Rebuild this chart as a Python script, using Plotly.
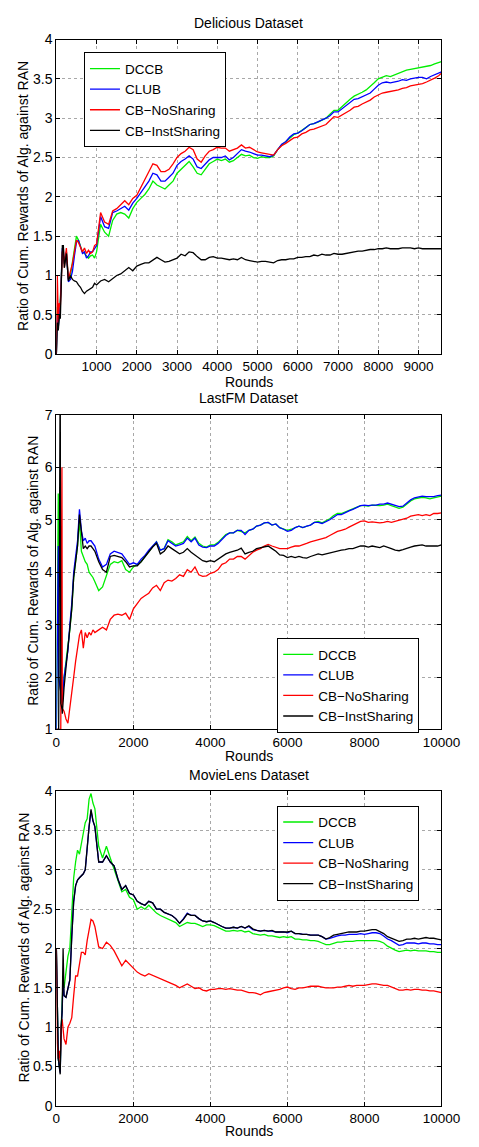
import plotly.graph_objects as go

W, H = 479, 1147

# ---------------- Data ----------------
NAMES = ["DCCB", "CLUB", "CB\u2212NoSharing", "CB\u2212InstSharing"]
COLORS = ["#00ee00", "#0000ff", "#ff0000", "#000000"]

# Delicious
DEL_X = [1, 25, 50, 75, 100, 125, 150, 175] + list(range(200, 1001, 50)) + list(range(1100, 9501, 100)) + [9570]
DEL_DCCB = [0.0, 0.6, 0.35, 0.5, 0.7, 1.0, 1.3, 1.25, 1.15, 1.3, 0.95, 1.0, 1.15, 1.3, 1.5, 1.45, 1.38, 1.3, 1.28, 1.25, 1.22, 1.25, 1.26, 1.22, 1.3,
            1.65, 1.55, 1.5, 1.7, 1.78, 1.8, 1.78, 1.73, 1.85, 1.93,
            1.98, 2.03, 2.1, 2.2, 2.15, 2.12, 2.1, 2.15, 2.2, 2.3,
            2.35, 2.4, 2.45, 2.38, 2.3, 2.28, 2.35, 2.42, 2.45, 2.48,
            2.46, 2.48, 2.44, 2.46, 2.5, 2.54, 2.52, 2.53, 2.5, 2.49,
            2.51, 2.5, 2.5, 2.52, 2.6, 2.66, 2.7, 2.75, 2.79, 2.81,
            2.84, 2.88, 2.92, 2.93, 2.95, 2.97, 3.0, 3.05, 3.1, 3.1,
            3.15, 3.2, 3.24, 3.28, 3.3, 3.33, 3.36, 3.4, 3.45, 3.5,
            3.52, 3.54, 3.53, 3.55, 3.57, 3.6, 3.61, 3.62, 3.63, 3.64,
            3.65, 3.66, 3.67, 3.69, 3.71, 3.72]
DEL_CLUB = [0.0, 0.5, 0.35, 0.55, 0.65, 1.0, 1.35, 1.3, 1.15, 1.3, 0.92, 0.95, 1.05, 1.25, 1.42, 1.45, 1.37, 1.28, 1.3, 1.22, 1.25, 1.3, 1.3, 1.35, 1.38,
            1.75, 1.62, 1.6, 1.8, 1.82, 1.85, 1.88, 1.83, 1.92, 1.98,
            2.05, 2.12, 2.2, 2.3, 2.28, 2.2, 2.2, 2.25, 2.3, 2.4,
            2.45, 2.48, 2.52, 2.48, 2.38, 2.36, 2.42, 2.47, 2.5, 2.5,
            2.5, 2.52, 2.47, 2.5, 2.55, 2.6, 2.58, 2.57, 2.55, 2.53,
            2.53, 2.52, 2.51, 2.53, 2.6, 2.67, 2.7, 2.76, 2.8, 2.81,
            2.84, 2.88, 2.92, 2.93, 2.95, 2.97, 3.0, 3.03, 3.08, 3.08,
            3.12, 3.15, 3.2, 3.24, 3.25, 3.27, 3.3, 3.32, 3.37, 3.42,
            3.45, 3.46, 3.45, 3.46, 3.47, 3.49, 3.48, 3.5, 3.51, 3.52,
            3.52, 3.5, 3.53, 3.55, 3.57, 3.59]
DEL_NOSH = [0.0, 1.0, 0.4, 0.65, 0.6, 1.0, 1.3, 1.35, 1.1, 1.35, 0.95, 1.05, 1.15, 1.3, 1.45, 1.42, 1.35, 1.3, 1.35, 1.28, 1.32, 1.28, 1.3, 1.38, 1.4,
            1.8, 1.68, 1.65, 1.82, 1.85, 1.9, 1.95, 1.9, 1.98, 2.02,
            2.12, 2.2, 2.3, 2.42, 2.4, 2.32, 2.32, 2.35, 2.42, 2.5,
            2.55, 2.58, 2.63, 2.6, 2.48, 2.44, 2.52, 2.58, 2.6, 2.63,
            2.62, 2.62, 2.58, 2.6, 2.62, 2.66, 2.62, 2.63, 2.6, 2.57,
            2.56, 2.55, 2.54, 2.53, 2.6, 2.65, 2.68, 2.72, 2.75, 2.76,
            2.8, 2.82, 2.85, 2.86, 2.88, 2.9, 2.92, 2.97, 3.02, 3.01,
            3.04, 3.06, 3.1, 3.14, 3.15, 3.18, 3.2, 3.23, 3.27, 3.3,
            3.32, 3.33, 3.34, 3.35, 3.36, 3.38, 3.39, 3.41, 3.42, 3.43,
            3.44, 3.46, 3.48, 3.51, 3.54, 3.57]
DEL_INST = [0.0, 0.4, 0.3, 0.5, 0.45, 1.05, 1.38, 1.38, 1.1, 1.28, 0.93, 1.0, 0.95, 0.93, 0.92, 0.88, 0.85, 0.8, 0.77, 0.8, 0.82, 0.83, 0.85, 0.9, 0.88,
            0.93, 0.95, 0.92, 0.96, 1.0, 1.02, 1.06, 1.1, 1.06, 1.12,
            1.14, 1.16, 1.16, 1.19, 1.23, 1.2, 1.17, 1.18, 1.2, 1.22,
            1.27, 1.25, 1.3, 1.29, 1.24, 1.2, 1.2, 1.23, 1.24, 1.22,
            1.22, 1.21, 1.2, 1.21, 1.2, 1.23, 1.2, 1.19, 1.18, 1.17,
            1.18, 1.18, 1.17, 1.16, 1.19, 1.2, 1.2, 1.21, 1.21, 1.23,
            1.23, 1.24, 1.24, 1.26, 1.25, 1.27, 1.26, 1.26, 1.28, 1.27,
            1.27, 1.28, 1.29, 1.3, 1.31, 1.31, 1.32, 1.33, 1.33, 1.34,
            1.34, 1.35, 1.34, 1.34, 1.34, 1.35, 1.35, 1.35, 1.34, 1.35,
            1.34, 1.34, 1.34, 1.34, 1.34, 1.34]

# LastFM
LFM_X = [0, 50, 60, 100, 115, 145, 155] + list(range(200, 1001, 50)) + list(range(1100, 10001, 100))
LFM_DCCB = [1.0, 5.5, 2.0, 1.8, 1.7, 1.6, 1.5, 2.0, 2.3, 2.5, 2.9, 3.3, 3.9, 4.2, 4.5, 5.0, 4.4, 4.3, 4.2, 4.15, 4.0, 3.95, 3.9, 3.82,
            3.65, 3.72, 3.95, 4.15, 4.2, 4.18, 4.22, 4.05, 4.0, 4.1,
            4.15, 4.2, 4.3, 4.4, 4.5, 4.58, 4.42, 4.45, 4.62, 4.58,
            4.52, 4.55, 4.58, 4.68, 4.6, 4.67, 4.55, 4.5, 4.48, 4.52,
            4.52, 4.57, 4.65, 4.72, 4.75, 4.75, 4.8, 4.78, 4.75, 4.8,
            4.82, 4.88, 4.9, 4.94, 4.95, 4.9, 4.92, 4.85, 4.82, 4.8,
            4.82, 4.85, 4.88, 4.85, 4.88, 4.9, 4.95, 4.97, 4.94, 4.98,
            5.02, 5.08, 5.12, 5.12, 5.15, 5.18, 5.2, 5.23, 5.27, 5.27,
            5.26, 5.28, 5.27, 5.27, 5.28, 5.3, 5.27, 5.25, 5.22, 5.24,
            5.3, 5.36, 5.4, 5.42, 5.43, 5.42, 5.4, 5.42, 5.44, 5.45]
LFM_CLUB = [1.0, 4.5, 2.0, 1.8, 1.7, 1.6, 1.5, 2.0, 2.3, 2.5, 3.0, 3.4, 4.0, 4.3, 4.6, 5.2, 4.8, 4.6, 4.65, 4.55, 4.6, 4.6, 4.55, 4.5,
            4.25, 4.1, 4.15, 4.35, 4.4, 4.38, 4.35, 4.25, 4.15, 4.18,
            4.15, 4.25, 4.32, 4.42, 4.5, 4.58, 4.42, 4.45, 4.6, 4.55,
            4.5, 4.52, 4.55, 4.65, 4.58, 4.65, 4.52, 4.48, 4.47, 4.5,
            4.5, 4.55, 4.63, 4.7, 4.75, 4.75, 4.8, 4.8, 4.72, 4.8,
            4.82, 4.88, 4.9, 4.94, 4.95, 4.9, 4.92, 4.85, 4.82, 4.78,
            4.8, 4.85, 4.88, 4.85, 4.88, 4.9, 4.95, 4.95, 4.93, 4.96,
            5.0, 5.05, 5.1, 5.1, 5.14, 5.17, 5.2, 5.23, 5.27, 5.28,
            5.27, 5.28, 5.28, 5.3, 5.3, 5.32, 5.3, 5.28, 5.25, 5.26,
            5.32, 5.38, 5.42, 5.44, 5.45, 5.44, 5.44, 5.44, 5.46, 5.47]
LFM_NOSH = [1.0, 1.0, 1.0, 1.0, 1.0, 6.0, 1.4, 1.35, 1.2, 1.12, 1.45, 1.65, 2.0, 2.3, 2.6, 2.8, 2.9, 2.55, 2.85, 2.75, 2.85, 2.8, 2.9, 2.85,
            2.9, 2.95, 2.9, 3.1, 3.18, 3.2, 3.18, 3.22, 3.1, 3.3,
            3.4, 3.5, 3.55, 3.6, 3.7, 3.75, 3.65, 3.8, 3.85, 3.83,
            3.88, 3.95, 3.92, 4.05, 4.0, 4.1, 3.95, 3.92, 3.93, 3.98,
            4.0, 4.05, 4.15, 4.18, 4.25, 4.25, 4.3, 4.3, 4.25, 4.32,
            4.38, 4.42, 4.45, 4.5, 4.53, 4.5, 4.48, 4.45, 4.45, 4.45,
            4.48, 4.5, 4.5, 4.52, 4.55, 4.58, 4.6, 4.62, 4.64, 4.66,
            4.7, 4.74, 4.78, 4.8, 4.82, 4.86, 4.9, 4.93, 4.97, 4.98,
            4.95, 4.96, 4.95, 4.94, 4.95, 4.97, 4.95, 4.97, 4.98, 5.0,
            5.03, 5.07, 5.08, 5.1, 5.08, 5.1, 5.08, 5.12, 5.12, 5.13]
LFM_INST = [1.0, 1.0, 1.0, 8.0, 1.5, 1.4, 1.3, 1.8, 2.2, 2.5, 2.9, 3.3, 3.9, 4.2, 4.5, 5.1, 4.7, 4.45, 4.5, 4.45, 4.5, 4.5, 4.45, 4.4,
            4.2, 4.05, 4.0, 4.3, 4.32, 4.3, 4.28, 4.2, 4.1, 4.12,
            4.12, 4.2, 4.3, 4.4, 4.48, 4.55, 4.35, 4.4, 4.5, 4.45,
            4.4, 4.35, 4.38, 4.45, 4.38, 4.33, 4.27, 4.22, 4.2, 4.22,
            4.2, 4.25, 4.3, 4.35, 4.38, 4.4, 4.42, 4.46, 4.35, 4.38,
            4.4, 4.45, 4.47, 4.48, 4.5, 4.45, 4.4, 4.33, 4.32, 4.28,
            4.3, 4.28, 4.3, 4.28, 4.27, 4.3, 4.32, 4.35, 4.33, 4.35,
            4.37, 4.38, 4.4, 4.42, 4.43, 4.45, 4.45, 4.47, 4.5, 4.5,
            4.48, 4.5, 4.48, 4.47, 4.5, 4.48, 4.45, 4.42, 4.41, 4.43,
            4.46, 4.48, 4.5, 4.51, 4.52, 4.5, 4.5, 4.5, 4.5, 4.52]

# MovieLens
ML_X = [0, 25, 50, 75, 100, 125, 150, 175] + list(range(200, 1001, 50)) + list(range(1100, 10001, 100))
ML_DCCB = [2.0, 1.0, 0.6, 0.5, 0.45, 1.0, 1.3, 1.6, 1.5, 1.7, 1.9, 2.0, 2.45, 2.9, 3.1, 3.25, 3.2, 3.35, 3.5, 3.6, 3.65, 3.9, 3.97, 3.85, 3.78,
           3.3, 3.15, 3.3, 3.15, 3.0, 2.85, 2.72, 2.75, 2.65, 2.62,
           2.5, 2.53, 2.5, 2.55, 2.5, 2.45, 2.42, 2.4, 2.37, 2.35,
           2.33, 2.28, 2.3, 2.33, 2.32, 2.32, 2.3, 2.28, 2.3, 2.3,
           2.29, 2.27, 2.25, 2.22, 2.22, 2.23, 2.22, 2.23, 2.21, 2.22,
           2.19, 2.18, 2.17, 2.18, 2.16, 2.16, 2.15, 2.14, 2.15, 2.14,
           2.15, 2.12, 2.12, 2.11, 2.11, 2.1, 2.1, 2.09, 2.07, 2.05,
           2.05, 2.07, 2.08, 2.08, 2.09, 2.09, 2.09, 2.1, 2.1, 2.1,
           2.1, 2.1, 2.1, 2.09, 2.07, 2.03, 2.0, 1.98, 1.96, 1.97,
           1.98, 1.97, 1.98, 1.97, 1.97, 1.97, 1.96, 1.96, 1.95, 1.95]
ML_CLUB = [2.0, 1.0, 0.6, 0.5, 0.42, 1.0, 1.2, 1.6, 1.4, 1.38, 1.5, 1.6, 2.15, 2.6, 2.8, 2.87, 2.9, 2.92, 2.95, 3.0, 3.3, 3.55, 3.75, 3.62, 3.55,
           3.1, 3.1, 3.18, 3.1, 3.05, 2.88, 2.75, 2.8, 2.7, 2.68,
           2.6, 2.57, 2.55, 2.6, 2.58, 2.5, 2.5, 2.46, 2.44, 2.42,
           2.38, 2.32, 2.38, 2.45, 2.42, 2.42, 2.38, 2.35, 2.34, 2.35,
           2.33, 2.3, 2.28, 2.26, 2.26, 2.27, 2.26, 2.28, 2.26, 2.28,
           2.24, 2.23, 2.22, 2.23, 2.22, 2.22, 2.21, 2.21, 2.21, 2.2,
           2.22, 2.19, 2.19, 2.18, 2.18, 2.17, 2.17, 2.17, 2.15, 2.12,
           2.13, 2.15, 2.16, 2.17, 2.17, 2.18, 2.18, 2.18, 2.19, 2.18,
           2.19, 2.2, 2.2, 2.19, 2.16, 2.12, 2.1, 2.07, 2.04, 2.05,
           2.07, 2.07, 2.07, 2.06, 2.07, 2.07, 2.06, 2.06, 2.05, 2.05]
ML_NOSH = [2.0, 0.8, 0.6, 0.7, 0.55, 1.0, 1.1, 0.9, 0.85, 0.78, 1.0, 1.05, 1.12, 1.4, 1.65, 1.65, 1.8, 1.95, 1.95, 1.92, 2.1, 2.25, 2.37, 2.35, 2.28,
           2.02, 2.0, 2.08, 2.04, 1.97, 1.88, 1.78, 1.85, 1.8, 1.74,
           1.7, 1.67, 1.65, 1.68, 1.66, 1.63, 1.62, 1.6, 1.58, 1.56,
           1.53, 1.5, 1.53, 1.55, 1.52, 1.49, 1.5, 1.47, 1.46, 1.48,
           1.48, 1.49, 1.49, 1.48, 1.49, 1.48, 1.47, 1.47, 1.45, 1.44,
           1.44, 1.43, 1.41, 1.44, 1.45, 1.46, 1.47, 1.48, 1.5, 1.51,
           1.49, 1.48, 1.5, 1.5, 1.51, 1.52, 1.52, 1.52, 1.51, 1.5,
           1.5, 1.5, 1.51, 1.51, 1.52, 1.53, 1.52, 1.53, 1.53, 1.53,
           1.54, 1.55, 1.55, 1.54, 1.53, 1.53, 1.51, 1.49, 1.47, 1.47,
           1.48, 1.47, 1.48, 1.48, 1.47, 1.47, 1.46, 1.46, 1.45, 1.44]
ML_INST = [2.0, 1.0, 0.6, 0.5, 0.4, 1.0, 1.2, 2.0, 1.4, 1.38, 1.5, 1.6, 2.15, 2.6, 2.8, 2.87, 2.9, 2.92, 2.95, 3.0, 3.3, 3.55, 3.77, 3.63, 3.55,
           3.1, 3.1, 3.18, 3.1, 3.05, 2.88, 2.75, 2.8, 2.7, 2.68,
           2.6, 2.57, 2.55, 2.6, 2.58, 2.5, 2.5, 2.46, 2.44, 2.42,
           2.38, 2.32, 2.37, 2.44, 2.42, 2.42, 2.38, 2.35, 2.34, 2.35,
           2.33, 2.3, 2.28, 2.26, 2.26, 2.27, 2.26, 2.28, 2.26, 2.29,
           2.25, 2.23, 2.22, 2.23, 2.22, 2.23, 2.21, 2.21, 2.21, 2.21,
           2.22, 2.19, 2.19, 2.18, 2.18, 2.17, 2.17, 2.17, 2.15, 2.12,
           2.14, 2.17, 2.18, 2.19, 2.2, 2.21, 2.21, 2.21, 2.22, 2.22,
           2.23, 2.24, 2.24, 2.22, 2.19, 2.15, 2.13, 2.11, 2.09, 2.1,
           2.12, 2.12, 2.13, 2.12, 2.13, 2.14, 2.13, 2.13, 2.12, 2.11]

TITLES = ["Delicious Dataset", "LastFM Dataset", "MovieLens Dataset"]
YLABEL = "Ratio of Cum. Rewards of Alg. against RAN"
XLABEL = "Rounds"
DEL_XTICKS = [1000, 2000, 3000, 4000, 5000, 6000, 7000, 8000, 9000]
FULL_XTICKS = [0, 2000, 4000, 6000, 8000, 10000]
DEL_YTICKS = [0, 0.5, 1, 1.5, 2, 2.5, 3, 3.5, 4]
LFM_YTICKS = [1, 2, 3, 4, 5, 6, 7]
ML_YTICKS = [0, 0.5, 1, 1.5, 2, 2.5, 3, 3.5, 4]

# ---------------- Layout (pixel helpers) ----------------
FONT = "Liberation Sans, Arial, Helvetica, sans-serif"
def px(x): return x / W
def py(y): return 1 - y / H

panels = [
    dict(x=DEL_X, ys=[DEL_DCCB, DEL_CLUB, DEL_NOSH, DEL_INST], top=32, bot=351,
         xr=[1, 9570], yr=[0, 4], xt=DEL_XTICKS, yt=DEL_YTICKS,
         title_y=15, xlab_y=379, ylab_x=20, leg=(84, 45)),
    dict(x=LFM_X, ys=[LFM_DCCB, LFM_CLUB, LFM_NOSH, LFM_INST], top=412.7, bot=731.7,
         xr=[0, 10000], yr=[1, 7], xt=FULL_XTICKS, yt=LFM_YTICKS,
         title_y=396, xlab_y=759, ylab_x=31, leg=(287, 639)),
    dict(x=ML_X, ys=[ML_DCCB, ML_CLUB, ML_NOSH, ML_INST], top=794.3, bot=1113.3,
         xr=[0, 10000], yr=[0, 4], xt=FULL_XTICKS, yt=ML_YTICKS,
         title_y=778, xlab_y=1139, ylab_x=20, leg=(287, 809)),
]
LEFT, RIGHT = 55, 459.5

fig = go.Figure()
annotations = []
layout = dict(width=W, height=H, margin=dict(l=0, r=0, t=0, b=0),
              paper_bgcolor="white", plot_bgcolor="white",
              font=dict(family=FONT, size=14, color="black"), showlegend=True)

for i, p in enumerate(panels):
    k = "" if i == 0 else str(i + 1)
    legname = "legend" + k
    for j in range(4):
        fig.add_trace(go.Scatter(x=p["x"], y=p["ys"][j], mode="lines", name=NAMES[j],
                                 line=dict(color=COLORS[j], width=1.3),
                                 xaxis="x" + k, yaxis="y" + k, legend=legname,
                                 hoverinfo="skip"))
    axis_common = dict(showline=True, linecolor="black", linewidth=1, mirror="ticks",
                       ticks="inside", ticklen=4, tickcolor="black", tickwidth=1,
                       showgrid=True, gridcolor="#a8a8a8", gridwidth=1, griddash="dot",
                       zeroline=False)
    layout["xaxis" + k] = dict(domain=[px(LEFT), px(RIGHT)], range=p["xr"], anchor="y" + k,
                               tickmode="array", tickvals=p["xt"],
                               ticktext=[str(v) for v in p["xt"]],
                               tickfont=dict(family=FONT, size=13.5, color="black"),
                               **axis_common)
    layout["yaxis" + k] = dict(domain=[py(p["bot"]), py(p["top"])], range=p["yr"], anchor="x" + k,
                               tickmode="array", tickvals=p["yt"],
                               ticktext=[("%g" % v) for v in p["yt"]],
                               tickfont=dict(family=FONT, size=14, color="black"),
                               **axis_common)
    layout[legname] = dict(x=px(p["leg"][0]), y=py(p["leg"][1]), xanchor="left", yanchor="top",
                           xref="paper", yref="paper",
                           bgcolor="white", bordercolor="black", borderwidth=1,
                           font=dict(family=FONT, size=13.5, color="black"),
                           itemwidth=30, tracegroupgap=0)
    cx = px((LEFT + RIGHT) / 2)
    annotations.append(dict(text=TITLES[i], x=cx, y=py(p["title_y"]), xref="paper", yref="paper",
                            xanchor="center", yanchor="middle", showarrow=False,
                            font=dict(family=FONT, size=14, color="black")))
    annotations.append(dict(text=XLABEL, x=cx, y=py(p["xlab_y"]), xref="paper", yref="paper",
                            xanchor="center", yanchor="middle", showarrow=False,
                            font=dict(family=FONT, size=14, color="black")))
    annotations.append(dict(text=YLABEL, x=px(p["ylab_x"]), y=py((p["top"] + p["bot"]) / 2 - 1),
                            xref="paper", yref="paper", textangle=-90,
                            xanchor="center", yanchor="middle", showarrow=False,
                            font=dict(family=FONT, size=14, color="black")))

layout["annotations"] = annotations
fig.update_layout(**layout)
fig.write_html("out.html")
